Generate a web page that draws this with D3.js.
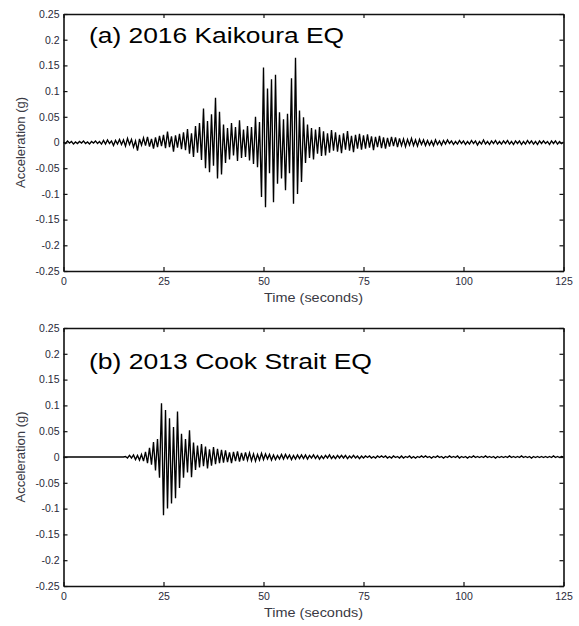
<!DOCTYPE html>
<html>
<head>
<meta charset="utf-8">
<script src="https://cdn.jsdelivr.net/npm/d3@7"></script>
<style>
  body { margin: 0; background: #fff; }
  svg { display: block; }
  .tick text { font-family: "Liberation Sans", Arial, sans-serif; font-size: 10.5px; fill: #2a2a3a; }
  .axis-label { font-family: "Liberation Sans", Arial, sans-serif; font-size: 13px; fill: #3a3a44; }
  .title { font-family: "Liberation Sans", Arial, sans-serif; font-size: 22px; fill: #000; }
</style>
</head>
<body>
<div id="chart"></div>
<script>
// sample step of the digitised records (seconds)
const dt = 0.5;

// (a) 2016 Kaikoura EQ, acceleration in milli-g, one value every 0.5 s
const kaikouraMilliG = [
    1,-2,3,-1,2,-3,1,-2,2,-1,
    3,-2,1,-3,2,-1,3,-2,2,-3,
    4,-3,5,-2,3,-6,4,-3,6,-4,
    5,-7,8,-4,6,-9,3,-16,7,-5,
    9,-6,11,-8,7,-12,10,-9,13,-7,
    15,-11,21,-9,12,-18,14,-10,17,-13,
    20,-15,26,-22,18,-28,32,-20,38,-34,
    66,-50,42,-58,55,-45,87,-70,60,-62,
    35,-40,28,-33,38,-25,30,-36,43,-30,
    25,-28,32,-35,30,-42,50,-48,40,-106,
    146,-126,105,-60,123,-116,132,-80,59,-70,
    45,-93,56,-60,125,-119,165,-100,62,-77,
    49,-40,35,-30,28,-33,25,-22,30,-26,
    22,-25,18,-20,24,-16,20,-18,15,-21,
    18,-14,22,-16,13,-19,15,-12,17,-14,
    14,-12,16,-10,12,-15,11,-9,13,-11,
    10,-12,9,-8,11,-7,10,-9,8,-6,
    7,-8,6,-5,8,-6,5,-7,6,-4,
    5,-6,4,-5,3,-6,5,-4,3,-5,
    4,-3,5,-2,3,-4,2,-3,4,-2,
    3,-4,2,-3,4,-2,3,-5,2,-3,
    5,-3,2,-4,3,-2,4,-3,2,-3,
    3,-2,4,-3,2,-4,3,-2,3,-4,
    2,-3,4,-2,3,-3,2,-4,3,-2,
    3,-2,2,-4,3,-2,3,-3,2,-2,1
];

// (b) 2013 Cook Strait EQ, acceleration in milli-g, one value every 0.5 s
const cookStraitMilliG = [
    0,0,0,0,0,0,0,0,0,0,
    0,0,0,0,0,0,0,0,0,0,
    0,0,0,0,0,0,0,0,0,0,
    0,1,-2,3,-2,4,-5,3,-6,5,
    -8,10,-12,18,-15,29,-26,35,-40,104,
    -113,91,-100,75,-90,58,-80,88,-60,45,
    -40,35,-30,52,-39,28,-25,22,-20,25,
    -18,20,-22,15,-17,19,-14,16,-12,14,
    -11,13,-10,9,-12,10,-8,11,-9,8,
    -7,9,-6,8,-7,6,-8,5,-6,7,
    -5,6,-4,5,-6,4,-5,3,-4,5,
    -4,5,-3,4,-5,3,-4,4,-3,4,
    -3,4,-4,3,-2,4,-3,3,-4,2,
    -3,3,-2,4,-3,2,-3,3,-2,3,
    -2,3,-3,2,-2,3,-2,2,-3,2,
    -2,2,-1,2,-2,1,-2,2,-1,2,
    -1,2,-2,1,-2,2,-1,1,-2,2,
    -2,1,-1,2,-2,1,-2,1,-1,2,
    -1,2,-1,1,-2,1,-1,2,-1,1,
    -2,1,-1,2,-1,1,-1,2,-2,1,
    -1,1,-2,1,-1,2,-1,1,-1,1,
    -1,2,-1,1,-1,1,-2,1,-1,1,
    -1,1,-1,2,-1,1,-1,1,-1,2,
    -1,1,-1,1,-2,1,-1,1,-1,1,
    -1,1,-1,1,-1,2,-1,1,-1,1,0
];

const titles = ["(a) 2016 Kaikoura EQ", "(b) 2013 Cook Strait EQ"];
const timeTicks = [0, 25, 50, 75, 100, 125];
const accTicks = [0.25, 0.2, 0.15, 0.1, 0.05, 0, -0.05, -0.1, -0.15, -0.2, -0.25];

const width = 579;
const height = 626;

const svg = d3.select("#chart")
    .append("svg")
    .attr("width", width)
    .attr("height", height);

const panels = [
    {values: kaikouraMilliG, title: titles[0], top: 14, bottom: 271, titleY: 43, titleLen: 255},
    {values: cookStraitMilliG, title: titles[1], top: 328, bottom: 586, titleY: 369, titleLen: 283}
];

const x = d3.scaleLinear().domain([0, 125]).range([63.5, 563.5]);

panels.forEach(function(p) {
    const y = d3.scaleLinear().domain([-0.25, 0.25]).range([p.bottom, p.top]);
    const g = svg.append("g");

    const line = d3.line()
        .x((d, i) => x(i * dt))
        .y(d => y(d / 1000));

    g.append("path")
        .datum(p.values)
        .attr("d", line)
        .attr("fill", "none")
        .attr("stroke", "#000")
        .attr("stroke-width", 1.35)
        .attr("stroke-linejoin", "miter");

    // box axes, ticks pointing in, MATLAB style
    g.append("g")
        .attr("transform", "translate(0," + p.bottom + ")")
        .call(d3.axisBottom(x).tickValues(timeTicks).tickSizeInner(-4).tickSizeOuter(0).tickPadding(7));
    g.append("g")
        .attr("transform", "translate(0," + p.top + ")")
        .call(d3.axisTop(x).tickValues(timeTicks).tickSizeInner(-4).tickSizeOuter(0).tickFormat(""));
    g.append("g")
        .attr("transform", "translate(" + x(0) + ",0)")
        .call(d3.axisLeft(y).tickValues(accTicks).tickSizeInner(-4).tickSizeOuter(0).tickPadding(4).tickFormat(d => String(d)));
    g.append("g")
        .attr("transform", "translate(" + x(125) + ",0)")
        .call(d3.axisRight(y).tickValues(accTicks).tickSizeInner(-4).tickSizeOuter(0).tickFormat(""));

    g.selectAll(".domain").attr("stroke", "#111").attr("stroke-width", 1.6);
    g.selectAll(".tick line").attr("stroke", "#111").attr("stroke-width", 1.2);

    g.append("text")
        .attr("class", "axis-label")
        .attr("text-anchor", "middle")
        .attr("x", (x(0) + x(125)) / 2)
        .attr("y", p.bottom + 31)
        .attr("textLength", 99)
        .attr("lengthAdjust", "spacingAndGlyphs")
        .text("Time (seconds)");

    g.append("text")
        .attr("class", "axis-label")
        .attr("text-anchor", "middle")
        .attr("transform", "translate(24.5," + y(0) + ") rotate(-90)")
        .text("Acceleration (g)");

    g.append("text")
        .attr("class", "title")
        .attr("x", 89)
        .attr("y", p.titleY)
        .attr("textLength", p.titleLen)
        .attr("lengthAdjust", "spacingAndGlyphs")
        .text(p.title);
});
</script>
</body>
</html>
